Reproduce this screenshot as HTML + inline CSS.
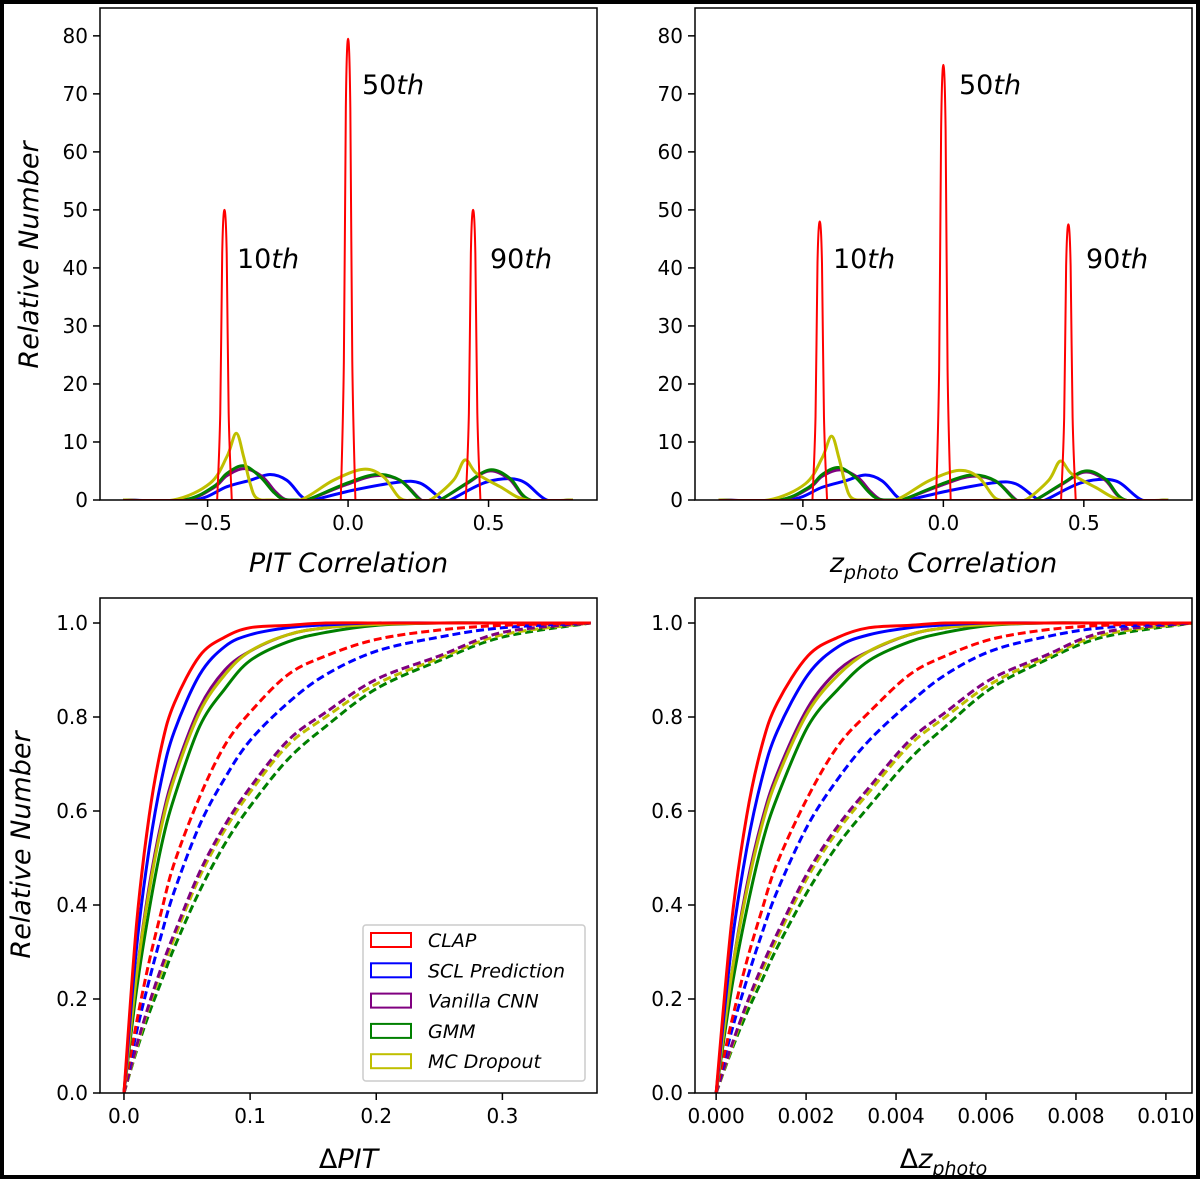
<!DOCTYPE html>
<html><head><meta charset="utf-8">
<style>
html,body{margin:0;padding:0;background:#fff}
svg{display:block}
text{font-family:"DejaVu Sans","Liberation Sans",sans-serif;fill:#000}
</style></head>
<body>
<svg id="fig" width="1200" height="1179" viewBox="0 0 1200 1179" xmlns="http://www.w3.org/2000/svg">
<rect x="2" y="2" width="1196" height="1175" fill="#fff" stroke="#000" stroke-width="4"/>
<g id="layer"></g>
</svg>
<script>
// ---------- top panels data (distribution curves) ----------
const topTicksX = [-0.5, 0, 0.5];
const topTickLabelsX = ["\u22120.5", "0.0", "0.5"];
const topTicksY = [0,10,20,30,40,50,60,70,80];
const redSpikeCentersL = [-0.44, 0, 0.445];
const redSpikePeaksL = [50, 79.5, 50];
const redSpikeCentersR = [-0.44, 0, 0.445];
const redSpikePeaksR = [48, 75, 47.5];
const yellowXL = [-0.8,-0.622,-0.491,-0.431,-0.398,-0.372,-0.349,-0.325,-0.269,-0.17,-0.052,0.055,0.126,0.185,0.242,0.292,0.375,0.416,0.457,0.541,0.636,0.8];
const yellowYL = [0,0,2.9,7.5,11.5,7.5,2.9,0.3,0,0,3.4,5.3,4,0.3,0,0,3.4,6.9,4.6,2.3,0,0];
const greenXL = [-0.8,-0.586,-0.479,-0.431,-0.372,-0.313,-0.266,-0.231,-0.179,-0.147,-0.004,0.102,0.185,0.257,0.296,0.327,0.422,0.505,0.577,0.648,0.8];
const greenYL = [0,0,2.3,4.6,5.9,4,1.4,0.15,0,0,2.9,4.4,3.4,0,0,0,2.9,5.2,3.7,0,0];
const purpleXL = [-0.8,-0.583,-0.479,-0.431,-0.368,-0.305,-0.26,-0.224,-0.179,-0.147,-0.004,0.102,0.188,0.26,0.296,0.327,0.422,0.502,0.574,0.646,0.8];
const purpleYL = [0,0,2.1,4.2,5.4,4,1.5,0.1,0,0,2.7,4.2,3.3,0,0,0,2.8,5.0,3.6,0,0];
const blueXL = [-0.8,-0.55,-0.431,-0.349,-0.278,-0.218,-0.17,-0.147,-0.124,0.019,0.185,0.257,0.316,0.339,0.363,0.493,0.612,0.707,0.8];
const blueYL = [0,0,2.3,3.4,4.4,3.4,0.8,0,0,1.7,3.1,2.9,0.8,0,0,3.1,3.4,0,0];
const yellowYR = [0,0,2.8,7.3,11,7.3,2.8,0.3,0,0,3.3,5.1,3.9,0.3,0,0,3.4,6.7,4.5,2.2,0,0];
const greenYR = [0,0,2.2,4.4,5.6,3.9,1.4,0.15,0,0,2.8,4.3,3.3,0,0,0,2.8,5.0,3.6,0,0];
const purpleYR = [0,0,2.0,4.1,5.2,3.9,1.5,0.1,0,0,2.6,4.1,3.2,0,0,0,2.7,4.8,3.5,0,0];
const blueYR = [0,0,2.2,3.3,4.3,3.3,0.8,0,0,1.6,3.0,2.8,0.8,0,0,3.0,3.3,0,0];

// ---------- bottom panels data (cumulative curves) ----------
const gridPIT = [0,0.01,0.02,0.03,0.04,0.06,0.08,0.1,0.13,0.16,0.2,0.25,0.3,0.37];
const gridZ = [0,0.34,0.68,1.02,1.36,2.04,2.72,3.4,4.3,5.1,6.1,7.3,8.6,10.6]; // units of 1e-3
const clapSolid = [0,.36,.59,.74,.83,.93,.97,.99,.995,1,1,1,1,1];
const sclSolid = [0,.31,.52,.67,.77,.89,.95,.975,.99,.996,1,1,1,1];
const vanillaSolid = [0,.25,.44,.58,.68,.82,.90,.94,.975,.99,.997,1,1,1];
const mcSolid = [0,.25,.43,.57,.67,.81,.89,.94,.975,.99,.997,1,1,1];
const gmmSolid = [0,.22,.39,.53,.63,.78,.86,.92,.96,.98,.995,1,1,1];
const clapDash = [0,.15,.28,.39,.49,.63,.74,.81,.89,.93,.965,.985,.995,1];
const sclDash = [0,.13,.24,.34,.43,.57,.67,.75,.83,.89,.94,.97,.99,1];
const vanillaDash = [0,.10,.19,.27,.34,.47,.57,.65,.75,.81,.88,.93,.98,1];
const mcDash = [0,.095,.185,.26,.33,.46,.56,.64,.74,.80,.87,.925,.975,1];
const gmmDash = [0,.09,.17,.24,.31,.43,.53,.61,.71,.78,.86,.92,.97,1];
const legendLabels = ["CLAP","SCL  Prediction","Vanilla  CNN","GMM","MC  Dropout"];
const legendColors = ["#ff0000","#0000ff","#800080","#008000","#bfbf00"];

const NS = "http://www.w3.org/2000/svg";
const layer = document.getElementById('layer');
function el(tag, attrs, parent, text){
  const e = document.createElementNS(NS, tag);
  for (const k in attrs) e.setAttribute(k, attrs[k]);
  if (text !== undefined) e.textContent = text;
  (parent||layer).appendChild(e);
  return e;
}
function scale(d0,d1,r0,r1){ return v => r0 + (v-d0)/(d1-d0)*(r1-r0); }
function catmull(pts){
  let d = `M${pts[0][0].toFixed(2)},${pts[0][1].toFixed(2)}`;
  for (let i=0;i<pts.length-1;i++){
    const p0=pts[Math.max(i-1,0)], p1=pts[i], p2=pts[i+1], p3=pts[Math.min(i+2,pts.length-1)];
    const c1=[p1[0]+(p2[0]-p0[0])/6, p1[1]+(p2[1]-p0[1])/6];
    const c2=[p2[0]-(p3[0]-p1[0])/6, p2[1]-(p3[1]-p1[1])/6];
    d += ` C${c1[0].toFixed(2)},${c1[1].toFixed(2)} ${c2[0].toFixed(2)},${c2[1].toFixed(2)} ${p2[0].toFixed(2)},${p2[1].toFixed(2)}`;
  }
  return d;
}

function drawAxes(g, x0,y0,x1,y1, xs, ys, xt, xtl, yt, ytl){
  for (let i=0;i<xt.length;i++){
    const px = xs(xt[i]);
    const t = el('line',{x1:px,y1:y1,x2:px,y2:y1+7,stroke:'#000','stroke-width':1.5},g);
    
    
    const l = el('text',{x:px,y:y1+30,'font-size':20,'text-anchor':'middle'},g,xtl[i]);
    
    
  }
  for (let i=0;i<yt.length;i++){
    const py = ys(yt[i]);
    const t = el('line',{x1:x0-7,y1:py,x2:x0,y2:py,stroke:'#000','stroke-width':1.5},g);
    
    
    const l = el('text',{x:x0-12,y:py+7,'font-size':20,'text-anchor':'end'},g,ytl[i]);
    
    
  }
}
function frame(g,x0,y0,x1,y1){
  const r = el('rect',{x:x0,y:y0,width:x1-x0,height:y1-y0,fill:'none',stroke:'#000','stroke-width':1.5},g);
  
  
}

function topPanel(name, x0, x1, xmin, xmax, centers, peaks, Y, B, G, P, xlabelParts, labelPos){
  const y0=8, y1=500;
  const g = el('g',{});
  
  
  const xs = scale(xmin,xmax,x0,x1), ys = scale(0,84.8,y1,y0);
  const cp = el('clipPath',{id:name+'-clip'},g);
  el('rect',{x:x0,y:y0,width:x1-x0,height:y1-y0},cp);
  const pg = el('g',{'clip-path':`url(#${name+'-clip'})`},g);
  const series = [
    ['blue-series','#0000ff',blueXL,B],
    ['purple-series','#800080',purpleXL,P],
    ['green-series','#008000',greenXL,G],
    ['yellow-series','#bfbf00',yellowXL,Y]
  ];
  for (const s of series){
    const pts = s[2].map((v,i)=>[xs(v), ys(s[3][i])]);
    const p = el('path',{d:catmull(pts),fill:'none',stroke:s[1],'stroke-width':3,'stroke-linejoin':'round'},pg);
    
    
  }
  const rb = el('line',{x1:xs(-0.8),y1:ys(0),x2:xs(0.8),y2:ys(0),stroke:'#ff0000','stroke-width':2},pg);
  
  
  for (let i=0;i<centers.length;i++){
    const c=centers[i], h=peaks[i];
    const pts=[[xs(c-0.026),ys(0)],[xs(c-0.015),ys(h*0.3)],[xs(c-0.008),ys(h*0.85)],[xs(c),ys(h)],[xs(c+0.008),ys(h*0.85)],[xs(c+0.015),ys(h*0.3)],[xs(c+0.026),ys(0)]];
    const p = el('path',{d:catmull(pts),fill:'none',stroke:'#ff0000','stroke-width':2},pg);
    
    
  }
  drawAxes(g,x0,y0,x1,y1,xs,ys,topTicksX,topTickLabelsX,topTicksY,topTicksY.map(String));
  frame(g,x0,y0,x1,y1);
  const names=['10','50','90'];
  for (let i=0;i<3;i++){
    const t = el('text',{x:labelPos[i][0],y:labelPos[i][1],'font-size':27},g);
    
    
    el('tspan',{},t,names[i]);
    el('tspan',{'font-style':'italic'},t,'th');
  }
  const xl = el('text',{x:(x0+x1)/2,y:572,'font-size':27,'text-anchor':'middle','font-style':'italic'},g);
  
  
  for (const part of xlabelParts) el('tspan',part[1],xl,part[0]);
}

function bottomPanel(name, x0, x1, xmin, xmax, grid, xt, xtl, xlabelParts){
  const y0=598, y1=1093;
  const g = el('g',{});
  
  
  const xs = scale(xmin,xmax,x0,x1), ys = scale(0,1.0532,y1,y0);
  const cp = el('clipPath',{id:name+'-clip'},g);
  el('rect',{x:x0,y:y0,width:x1-x0,height:y1-y0},cp);
  const pg = el('g',{'clip-path':`url(#${name+'-clip'})`},g);
  const series = [
    ['gmm-dashed','#008000',gmmDash,true],
    ['mc-dropout-dashed','#bfbf00',mcDash,true],
    ['vanilla-cnn-dashed','#800080',vanillaDash,true],
    ['scl-dashed','#0000ff',sclDash,true],
    ['clap-dashed','#ff0000',clapDash,true],
    ['gmm-solid','#008000',gmmSolid,false],
    ['vanilla-cnn-solid','#800080',vanillaSolid,false],
    ['mc-dropout-solid','#bfbf00',mcSolid,false],
    ['scl-solid','#0000ff',sclSolid,false],
    ['clap-solid','#ff0000',clapSolid,false]
  ];
  for (const s of series){
    const pts = grid.map((v,i)=>[xs(v), ys(s[2][i])]);
    const attrs = {d:catmull(pts),fill:'none',stroke:s[1],'stroke-width':3};
    if (s[3]) attrs['stroke-dasharray']='8,4';
    const p = el('path',attrs,pg);
    
    
  }
  const yt=[0,0.2,0.4,0.6,0.8,1.0];
  drawAxes(g,x0,y0,x1,y1,xs,ys,xt,xtl,yt,yt.map(v=>v.toFixed(1)));
  frame(g,x0,y0,x1,y1);
  const xl = el('text',{x:(x0+x1)/2,y:1168,'font-size':27,'text-anchor':'middle'},g);
  
  
  for (const part of xlabelParts) el('tspan',part[1],xl,part[0]);
  return g;
}

topPanel('pit-correlation-panel',100,597,-0.883,0.886,redSpikeCentersL,redSpikePeaksL,yellowYL,blueYL,greenYL,purpleYL,
  [['PIT  Correlation',{}]],[[237,268],[362,94],[490,268]]);
topPanel('zphoto-correlation-panel',695,1192,-0.884,0.885,redSpikeCentersR,redSpikePeaksR,yellowYR,blueYR,greenYR,purpleYR,
  [['z',{}],['photo',{'font-size':19,dy:7}],['  Correlation',{dy:-7}]],[[833,268],[959,94],[1086,268]]);

bottomPanel('delta-pit-panel',100,597,-0.019,0.375,gridPIT,[0,0.1,0.2,0.3],["0.0","0.1","0.2","0.3"],
  [['\u0394',{}],['PIT',{'font-style':'italic'}]]);
const zt=[0,2,4,6,8,10];
bottomPanel('delta-zphoto-panel',695,1192,-0.47,10.58,gridZ,zt,zt.map(v=>(v/1000).toFixed(3)),
  [['\u0394',{}],['z',{'font-style':'italic'}],['photo',{'font-style':'italic','font-size':19,dy:7}]]);

const yt1 = el('text',{x:0,y:0,'font-size':27,'font-style':'italic','text-anchor':'middle',transform:'translate(38,255) rotate(-90)'},layer,'Relative  Number');


const yt2 = el('text',{x:0,y:0,'font-size':27,'font-style':'italic','text-anchor':'middle',transform:'translate(30,845) rotate(-90)'},layer,'Relative  Number');



const lg = el('g',{});


const lb = el('rect',{x:363,y:925,width:222,height:156,rx:3,fill:'#fff',stroke:'#ccc','stroke-width':1.5},lg);


for (let i=0;i<legendLabels.length;i++){
  const cy = 940 + i*30.3;
  const e = el('g',{},lg);
  
  
  el('rect',{x:371,y:cy-7,width:40,height:14,fill:'#fff',stroke:legendColors[i],'stroke-width':2},e);
  el('text',{x:428,y:cy+7,'font-size':19,'font-style':'italic'},e,legendLabels[i]);
}
</script>
</body></html>
